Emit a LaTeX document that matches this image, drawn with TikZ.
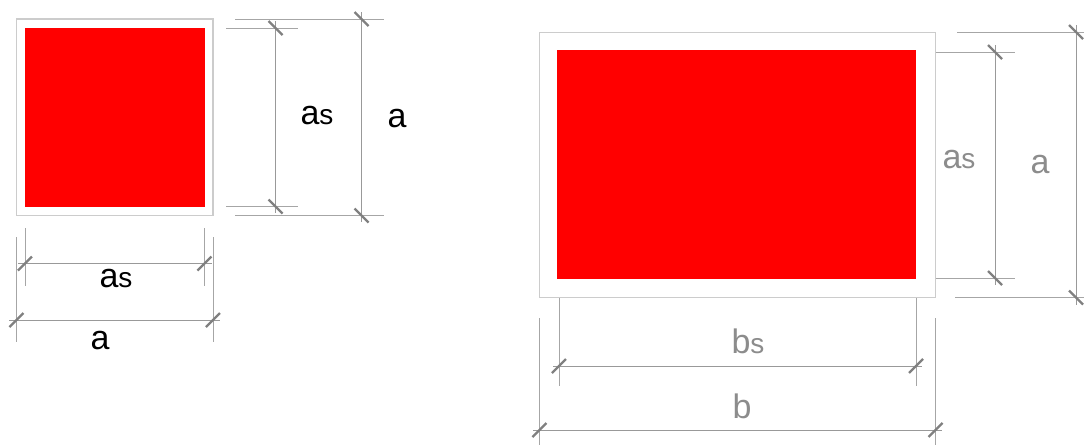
\documentclass[tikz,border=0pt]{standalone}
\usepackage{fontspec}
\setmainfont{Liberation Sans}
\begin{document}
\begin{tikzpicture}[x=1pt,y=-1pt,
  frame/.style={draw=black!20,line width=1.3pt},
  core/.style={fill=red},
  dimline/.style={draw=black!40,line width=0.9pt},
  extline/.style={draw=black!35,line width=0.9pt},
  tickmark/.style={draw=black!50,line width=2.4pt},
  lblk/.style={anchor=base,inner sep=0pt,text=black,font=\fontsize{34}{40}\selectfont},
  lblg/.style={anchor=base,inner sep=0pt,text=black!45,font=\fontsize{34}{40}\selectfont}]
\newcommand{\smalls}{{\fontsize{28}{32}\selectfont s}}
\useasboundingbox (0,0) rectangle (1084,445);
% ---------- left square ----------
\draw[frame] (16.5,19) rectangle (213,215.5);
\fill[core] (25,27.5) rectangle (205,207);
% vertical as
\draw[extline] (226,28) -- (298,28);
\draw[extline] (226,206.5) -- (298,206.5);
\draw[dimline] (275.5,21) -- (275.5,213);
\draw[tickmark] (268.5,21) -- (282.5,35);
\draw[tickmark] (268.5,199.5) -- (282.5,213.5);
\node[lblk] (l1) at (317,124) {a\smalls};
% vertical a
\draw[extline] (235,19) -- (384,19);
\draw[extline] (235,215.5) -- (384,215.5);
\draw[dimline] (361.5,12) -- (361.5,222);
\draw[tickmark] (354.5,12) -- (368.5,26);
\draw[tickmark] (354.5,208.5) -- (368.5,222.5);
\node[lblk] (l2) at (397,127) {a};
% horizontal as
\draw[extline] (25,228) -- (25,286);
\draw[extline] (204.5,228) -- (204.5,286);
\draw[dimline] (18,263.5) -- (212,263.5);
\draw[tickmark] (18,270.5) -- (32,256.5);
\draw[tickmark] (197.5,270.5) -- (211.5,256.5);
\node[lblk] (l3) at (116,287) {a\smalls};
% horizontal a
\draw[extline] (16.5,237) -- (16.5,342);
\draw[extline] (213,237) -- (213,342);
\draw[dimline] (9,320) -- (220,320);
\draw[tickmark] (9.5,327) -- (23.5,313);
\draw[tickmark] (206,327) -- (220,313);
\node[lblk] (l4) at (100,349) {a};
% ---------- right rectangle ----------
\draw[frame] (539.5,32.5) rectangle (935.5,297.5);
\fill[core] (557,49.5) rectangle (916,278.5);
% vertical as
\draw[extline] (935.5,52) -- (1015,52);
\draw[extline] (935.5,278) -- (1015,278);
\draw[dimline] (995,45) -- (995,285);
\draw[tickmark] (988,45) -- (1002,59);
\draw[tickmark] (988,271) -- (1002,285);
\node[lblg] (r1) at (959,168) {a\smalls};
% vertical a
\draw[extline] (957,32) -- (1084,32);
\draw[extline] (955,297.5) -- (1084,297.5);
\draw[dimline] (1076,25) -- (1076,305);
\draw[tickmark] (1069,25) -- (1083,39);
\draw[tickmark] (1069,290.5) -- (1083,304.5);
\node[lblg] (r2) at (1040,173) {a};
% horizontal bs
\draw[extline] (559,298) -- (559,386);
\draw[extline] (916,298) -- (916,386);
\draw[dimline] (553,366) -- (922,366);
\draw[tickmark] (552,373) -- (566,359);
\draw[tickmark] (909,373) -- (923,359);
\node[lblg] (r3) at (748,353) {b\smalls};
% horizontal b
\draw[extline] (539.5,318) -- (539.5,445);
\draw[extline] (935.5,318) -- (935.5,445);
\draw[dimline] (533,430) -- (942,430);
\draw[tickmark] (532.5,437) -- (546.5,423);
\draw[tickmark] (928.5,437) -- (942.5,423);
\node[lblg] (r4) at (742,418) {b};
\end{tikzpicture}
\end{document}
